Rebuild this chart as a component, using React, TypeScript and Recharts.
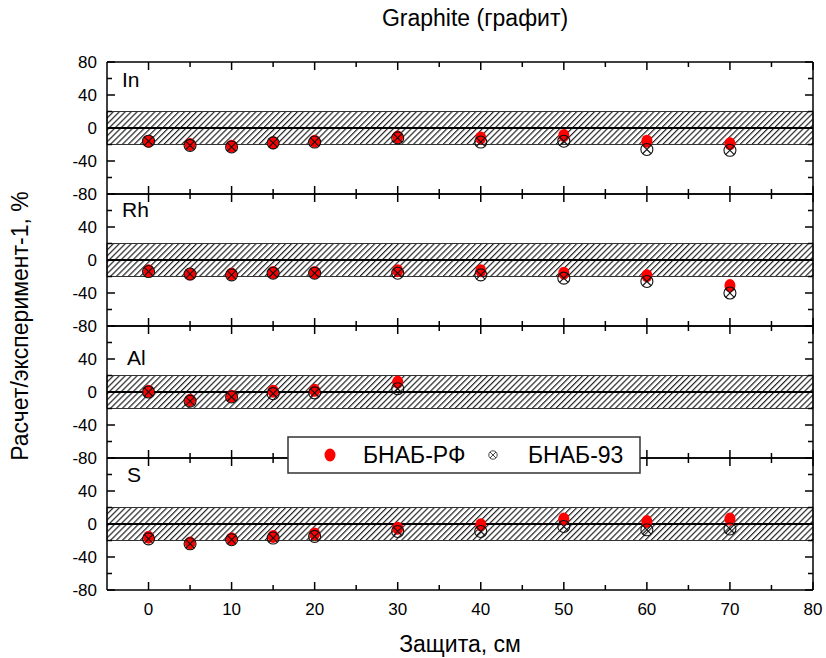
import React from "react";
import {
  ScatterChart,
  Scatter,
  XAxis,
  YAxis,
  ReferenceArea,
  ReferenceLine,
} from "recharts";

// shielding thickness, cm
const shielding = [0, 5, 10, 15, 20, 30, 40, 50, 60, 70];
const shieldingAl = [0, 5, 10, 15, 20, 30];

// calc/experiment - 1, %
const inRf = [-16, -20, -22, -18, -16, -11, -12, -9, -16, -19];
const in93 = [-16, -21, -23, -18, -17, -12, -17, -16, -26, -27];
const rhRf = [-13, -17, -17, -15, -15, -13, -13, -16, -19, -31];
const rh93 = [-14, -17, -18, -16, -16, -16, -18, -22, -26, -40];
const alRf = [1, -10, -5, 1, 2, 12];
const al93 = [0, -11, -6, -2, -1, 4];
const sRf = [-16, -23, -18, -15, -12, -5, -1, 6, 3, 6];
const s93 = [-18, -24, -19, -17, -15, -9, -9, -3, -7, -6];

const xTicks = [0, 5, 10, 15, 20, 25, 30, 35, 40, 45, 50, 55, 60, 65, 70, 75, 80];
const yTicks = [-80, -60, -40, -20, 0, 20, 40, 60, 80];

const FONT = '"Liberation Sans", Arial, sans-serif';

const toPoints = (xs: number[], ys: number[]) =>
  xs.map((x, i) => ({ x, y: ys[i] }));

const panels = [
  { label: "In", lx: 122, ly: 87, rf: toPoints(shielding, inRf), b93: toPoints(shielding, in93) },
  { label: "Rh", lx: 122, ly: 217, rf: toPoints(shielding, rhRf), b93: toPoints(shielding, rh93) },
  { label: "Al", lx: 127, ly: 365, rf: toPoints(shieldingAl, alRf), b93: toPoints(shieldingAl, al93) },
  { label: "S", lx: 127, ly: 482, rf: toPoints(shielding, sRf), b93: toPoints(shielding, s93) },
];

const PLOT_LEFT = 107;
const PLOT_RIGHT = 813;
const PANEL_TOP = 62;
const PANEL_H = 132;
const W = 826;

const YTick = (props: any) => {
  const { x, y, payload, side, showTop } = props;
  const v = payload.value;
  const major = v % 40 === 0;
  const len = major ? 8 : 5;
  const dir = side === "left" ? 1 : -1;
  const showLabel = side === "left" && major && (v !== 80 || showTop);
  return (
    <g>
      <line x1={x} y1={y} x2={x + dir * len} y2={y} stroke="#000" strokeWidth={1.5} />
      {showLabel && (
        <text x={x - 10} y={y} dy={6} textAnchor="end" fontSize={17} fontFamily={FONT} fill="#000">
          {v}
        </text>
      )}
    </g>
  );
};

const XTick = (props: any) => {
  const { x, y, payload, side, showLabels } = props;
  const v = payload.value;
  const major = v % 10 === 0;
  const len = major ? 8 : 5;
  const dir = side === "top" ? 1 : -1;
  return (
    <g>
      <line x1={x} y1={y} x2={x} y2={y + dir * len} stroke="#000" strokeWidth={1.5} />
      {side === "bottom" && showLabels && major && (
        <text x={x} y={y + 25} textAnchor="middle" fontSize={17} fontFamily={FONT} fill="#000">
          {v}
        </text>
      )}
    </g>
  );
};

const RedDot = (p: any) => (
  <ellipse cx={p.cx} cy={p.cy} rx={5.5} ry={6.5} fill="#ff0000" />
);

const CrossCircle = (p: any) => {
  const { cx, cy } = p;
  const d = 4.3;
  return (
    <g>
      <circle cx={cx} cy={cy} r={6} fill="none" stroke="#111" strokeWidth={1.1} />
      <line x1={cx - d} y1={cy - d} x2={cx + d} y2={cy + d} stroke="#111" strokeWidth={1.1} />
      <line x1={cx - d} y1={cy + d} x2={cx + d} y2={cy - d} stroke="#111" strokeWidth={1.1} />
    </g>
  );
};

const Panel = ({ idx, rf, b93 }: { idx: number; rf: any[]; b93: any[] }) => {
  const last = idx === panels.length - 1;
  const bottomH = last ? 40 : 10;
  const height = 10 + PANEL_H + bottomH;
  const hatchId = `hatch${idx}`;
  return (
    <div style={{ position: "absolute", left: 0, top: PANEL_TOP + idx * PANEL_H - 10 }}>
      <ScatterChart
        width={W}
        height={height}
        margin={{ top: 9, right: W - PLOT_RIGHT - 1, bottom: 0, left: PLOT_LEFT - 60 }}
      >
        <defs>
          <pattern
            id={hatchId}
            patternUnits="userSpaceOnUse"
            width={4.2}
            height={4.2}
            patternTransform="rotate(45)"
          >
            <line x1={0.6} y1={0} x2={0.6} y2={4.2} stroke="#222" strokeWidth={1.2} />
          </pattern>
        </defs>
        <XAxis
          xAxisId="b"
          type="number"
          dataKey="x"
          orientation="bottom"
          domain={[-5, 80]}
          ticks={xTicks}
          interval={0}
          height={bottomH}
          tickSize={0}
          tickMargin={0}
          tickLine={false}
          axisLine={{ stroke: "#000", strokeWidth: 1.5 }}
          tick={(p: any) => <XTick {...p} side="bottom" showLabels={last} />}
          allowDataOverflow
        />
        <XAxis
          xAxisId="t"
          type="number"
          dataKey="x"
          orientation="top"
          domain={[-5, 80]}
          ticks={xTicks}
          interval={0}
          height={1}
          tickSize={0}
          tickMargin={0}
          tickLine={false}
          axisLine={{ stroke: "#000", strokeWidth: 1.5 }}
          tick={(p: any) => <XTick {...p} side="top" />}
          allowDataOverflow
        />
        <YAxis
          yAxisId="l"
          type="number"
          dataKey="y"
          orientation="left"
          domain={[-80, 80]}
          ticks={yTicks}
          interval={0}
          width={60}
          tickSize={0}
          tickMargin={0}
          tickLine={false}
          axisLine={{ stroke: "#000", strokeWidth: 1.5 }}
          tick={(p: any) => <YTick {...p} side="left" showTop={idx === 0} />}
          allowDataOverflow
        />
        <YAxis
          yAxisId="r"
          type="number"
          dataKey="y"
          orientation="right"
          domain={[-80, 80]}
          ticks={yTicks}
          interval={0}
          width={1}
          tickSize={0}
          tickMargin={0}
          tickLine={false}
          axisLine={{ stroke: "#000", strokeWidth: 1.5 }}
          tick={(p: any) => <YTick {...p} side="right" />}
          allowDataOverflow
        />
        <ReferenceArea
          xAxisId="b"
          yAxisId="l"
          y1={-20}
          y2={20}
          fill={`url(#${hatchId})`}
          fillOpacity={1}
          stroke="#333"
          strokeWidth={1}
        />
        <ReferenceLine xAxisId="b" yAxisId="l" y={0} stroke="#000" strokeWidth={2} />
        <Scatter
          name="БНАБ-РФ"
          data={rf}
          xAxisId="b"
          yAxisId="l"
          shape={RedDot}
          isAnimationActive={false}
        />
        <Scatter
          name="БНАБ-93"
          data={b93}
          xAxisId="b"
          yAxisId="l"
          shape={CrossCircle}
          isAnimationActive={false}
        />
        <Scatter data={[]} xAxisId="t" yAxisId="r" isAnimationActive={false} />
      </ScatterChart>
    </div>
  );
};

export default function App() {
  return (
    <div
      style={{
        position: "absolute",
        left: 0,
        top: 0,
        width: W,
        height: 658,
        background: "#fff",
        fontFamily: FONT,
      }}
    >
      {panels.map((p, i) => (
        <Panel key={p.label} idx={i} rf={p.rf} b93={p.b93} />
      ))}
      <svg
        width={W}
        height={658}
        style={{ position: "absolute", left: 0, top: 0, pointerEvents: "none" }}
      >
        <text x={475} y={26} textAnchor="middle" fontSize={23} fontFamily={FONT} fill="#000">
          Graphite (графит)
        </text>
        <text
          x={28}
          y={326}
          transform="rotate(-90, 28, 326)"
          textAnchor="middle"
          fontSize={23}
          fontFamily={FONT}
          fill="#000"
        >
          Расчет/эксперимент-1, %
        </text>
        <text x={460} y={652} textAnchor="middle" fontSize={23} fontFamily={FONT} fill="#000">
          Защита, см
        </text>
        {panels.map((p) => (
          <text key={p.label} x={p.lx} y={p.ly} fontSize={21} fontFamily={FONT} fill="#000">
            {p.label}
          </text>
        ))}
        <rect x={288} y={437} width={352} height={36} fill="#fff" stroke="#333" strokeWidth={1.5} />
        <RedDot cx={330} cy={455} />
        <text x={363} y={463} fontSize={23} fontFamily={FONT} fill="#000">
          БНАБ-РФ
        </text>
        <g transform="translate(493,455) scale(0.7) translate(-493,-455)">
          <CrossCircle cx={493} cy={455} />
        </g>
        <text x={528} y={463} fontSize={23} fontFamily={FONT} fill="#000">
          БНАБ-93
        </text>
      </svg>
    </div>
  );
}
